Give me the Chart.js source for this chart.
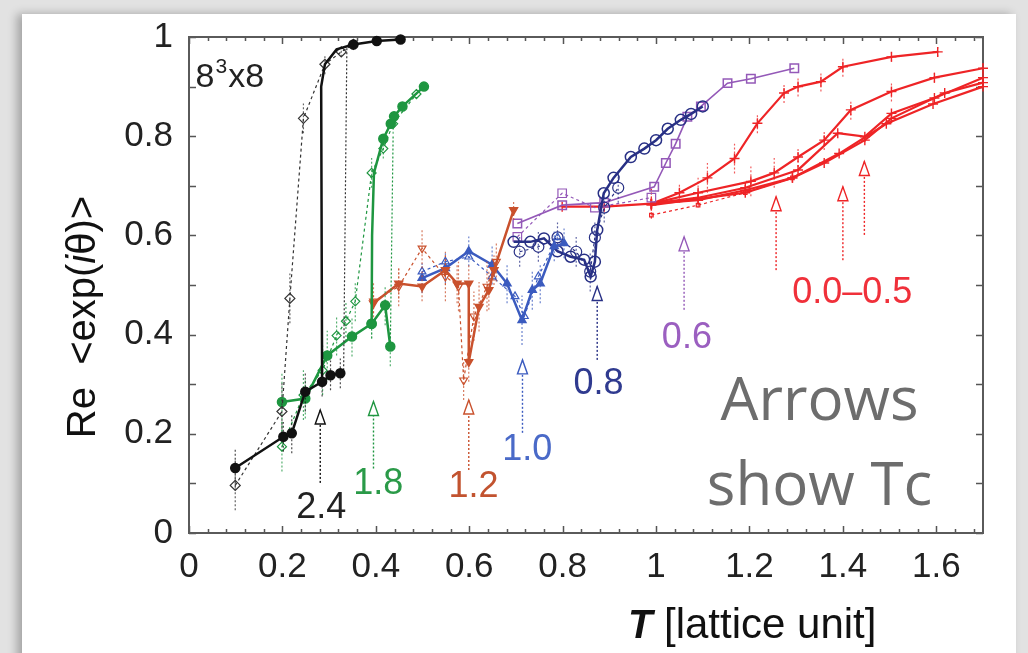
<!DOCTYPE html>
<html>
<head>
<meta charset="utf-8">
<script src="https://cdn.jsdelivr.net/npm/chart.js@4.4.1/dist/chart.umd.min.js"></script>
<style>
  html, body { margin: 0; padding: 0; }
  body { width: 1028px; height: 653px; background: #e2e2e2; position: relative; overflow: hidden; }
  #panel { position: absolute; left: 22px; top: 14px; width: 994px; height: 660px; background: #fff;
           box-shadow: -5px 0 9px rgba(0,0,0,0.28); }
  #chart { position: absolute; left: 0; top: 0; }
</style>
</head>
<body>
<div id="panel"></div>
<canvas id="chart" width="1028" height="653"></canvas>
<script>
// axis ticks
const xTicks = [0, 0.2, 0.4, 0.6, 0.8, 1, 1.2, 1.4, 1.6];
const xTickLabels = ["0", "0.2", "0.4", "0.6", "0.8", "1", "1.2", "1.4", "1.6"];
const yTicks = [0, 0.2, 0.4, 0.6, 0.8, 1];
const yTickLabels = ["0", "0.2", "0.4", "0.6", "0.8", "1"];
const xMax = 1.7;

// kappa = 2.4 (black)
const blackLowT = [0.099, 0.202, 0.220, 0.249, 0.285, 0.303, 0.324];
const blackLowRe = [0.131, 0.194, 0.201, 0.285, 0.305, 0.318, 0.322];
const blackLowErr = [0.04, 0.03, 0.04, 0.04, 0.03, 0.03, 0.03];
const blackJumpT = [0.285, 0.283, 0.291, 0.316, 0.352];
const blackJumpRe = [0.305, 0.90, 0.945, 0.975, 0.985];
const blackHighT = [0.352, 0.402, 0.453];
const blackHighRe = [0.985, 0.992, 0.995];
const blackDashT = [0.099, 0.199, 0.216, 0.245, 0.291, 0.326, 0.352];
const blackDashRe = [0.096, 0.245, 0.473, 0.836, 0.945, 0.970, 0.985];
const blackDashErr = [0.05, 0.06, 0.05, 0.03, 0.02, 0.01, 0.01];
const blackDotT = [0.331, 0.338];
const blackDotRe = [0.32, 0.98];

// kappa = 1.8 (green)
const greenLowT = [0.199, 0.249, 0.296, 0.349, 0.391];
const greenLowRe = [0.264, 0.271, 0.358, 0.396, 0.422];
const greenLowErr = [0.06, 0.04, 0.05, 0.04, 0.03];
const greenJumpT = [0.391, 0.392, 0.396, 0.416];
const greenJumpRe = [0.422, 0.60, 0.726, 0.795];
const greenHighT = [0.416, 0.432, 0.439, 0.457, 0.503];
const greenHighRe = [0.795, 0.825, 0.840, 0.860, 0.900];
const greenBranchT = [0.391, 0.420, 0.431];
const greenBranchRe = [0.422, 0.459, 0.376];
const greenBranchErr = [0.03, 0.04, 0.04];
const greenDotT = [0.431, 0.437];
const greenDotRe = [0.376, 0.80];
const greenDashT = [0.199, 0.245, 0.286, 0.316, 0.336, 0.356, 0.391, 0.416, 0.437, 0.487];
const greenDashRe = [0.174, 0.278, 0.328, 0.398, 0.427, 0.467, 0.726, 0.775, 0.825, 0.885];
const greenDashErr = [0.05, 0.05, 0.05, 0.04, 0.04, 0.04, 0.03, 0.02, 0.02, 0.01];

// kappa = 1.2 (brown-red)
const brownT = [0.395, 0.449, 0.499, 0.549, 0.574, 0.599, 0.599, 0.621, 0.642, 0.653, 0.695];
const brownRe = [0.463, 0.503, 0.497, 0.530, 0.503, 0.503, 0.345, 0.456, 0.490, 0.530, 0.651];
const brownErr = [0.02, 0.03, 0.03, 0.03, 0.04, 0.04, 0.04, 0.05, 0.04, 0.03, 0.02];
const brownDashT = [0.395, 0.449, 0.499, 0.549, 0.577, 0.588, 0.610, 0.638, 0.658];
const brownDashRe = [0.467, 0.497, 0.574, 0.517, 0.497, 0.308, 0.437, 0.497, 0.547];
const brownDashErr = [0.04, 0.04, 0.04, 0.05, 0.05, 0.04, 0.05, 0.05, 0.04];

// kappa = 1.0 (blue)
const blueT = [0.499, 0.549, 0.599, 0.649, 0.681, 0.713, 0.735, 0.752, 0.782, 0.803];
const blueRe = [0.514, 0.534, 0.568, 0.541, 0.503, 0.429, 0.490, 0.503, 0.578, 0.584];
const blueErr = [0.03, 0.03, 0.03, 0.04, 0.04, 0.05, 0.04, 0.04, 0.03, 0.03];
const blueDashT = [0.499, 0.549, 0.599, 0.649, 0.698, 0.718, 0.748, 0.789];
const blueDashRe = [0.527, 0.547, 0.557, 0.517, 0.477, 0.437, 0.517, 0.596];

// kappa = 0.8 (navy)
const navyT = [0.695, 0.731, 0.760, 0.789, 0.817, 0.846, 0.860, 0.869, 0.874, 0.888, 0.909, 0.946, 0.975, 1.000, 1.025, 1.053, 1.075, 1.100];
const navyRe = [0.587, 0.587, 0.594, 0.568, 0.557, 0.551, 0.517, 0.547, 0.611, 0.685, 0.716, 0.758, 0.775, 0.792, 0.815, 0.833, 0.845, 0.860];
const navyDashT = [0.708, 0.748, 0.789, 0.829, 0.859, 0.869, 0.889, 0.919];
const navyDashRe = [0.567, 0.577, 0.596, 0.567, 0.527, 0.596, 0.656, 0.696];
const navyDashErr = [0.03, 0.03, 0.03, 0.03, 0.04, 0.03, 0.03, 0.03];

// kappa = 0.6 (purple)
const purpleT = [0.703, 0.799, 0.889, 0.996, 1.021, 1.042, 1.067, 1.096, 1.153, 1.203, 1.296];
const purpleRe = [0.624, 0.661, 0.666, 0.698, 0.746, 0.785, 0.839, 0.860, 0.907, 0.916, 0.937];
const purpleDashT = [0.703, 0.799, 0.869, 0.990];
const purpleDashRe = [0.597, 0.685, 0.656, 0.676];

// kappa = 0.0 - 0.5 (red)
const redBaseT = [0.799, 0.889, 0.990];
const redBaseRe = [0.658, 0.658, 0.664];
const redAT = [0.990, 1.050, 1.110, 1.168, 1.217, 1.274, 1.304, 1.353, 1.400, 1.504, 1.603];
const redARe = [0.664, 0.686, 0.716, 0.755, 0.826, 0.887, 0.900, 0.910, 0.940, 0.960, 0.970];
const redAErr = [0.03, 0.02, 0.03, 0.03, 0.02, 0.02, 0.02, 0.02, 0.02, 0.01, 0.01];
const redBT = [0.990, 1.090, 1.203, 1.253, 1.304, 1.360, 1.417, 1.504, 1.596, 1.700];
const redBRe = [0.664, 0.686, 0.709, 0.726, 0.758, 0.792, 0.853, 0.890, 0.918, 0.937];
const redBErr = [0.03, 0.03, 0.03, 0.03, 0.02, 0.02, 0.02, 0.02, 0.01, 0.01];
const redCT = [0.990, 1.090, 1.191, 1.304, 1.389, 1.447, 1.504, 1.596, 1.700];
const redCRe = [0.664, 0.676, 0.696, 0.732, 0.806, 0.799, 0.846, 0.877, 0.918];
const redDT = [0.990, 1.090, 1.191, 1.292, 1.360, 1.447, 1.504, 1.618, 1.700];
const redDRe = [0.664, 0.671, 0.691, 0.716, 0.746, 0.792, 0.836, 0.887, 0.908];
const redET = [0.990, 1.191, 1.292, 1.392, 1.493, 1.593, 1.700];
const redERe = [0.661, 0.686, 0.716, 0.765, 0.825, 0.865, 0.900];
const redDashT = [0.990, 1.090, 1.191, 1.292];
const redDashRe = [0.641, 0.661, 0.686, 0.716];

// Tc arrows (dotted shafts with open heads)
const arrowT = [0.281, 0.395, 0.599, 0.714, 0.874, 1.060, 1.257, 1.400, 1.446];
const arrowTail = [0.101, 0.130, 0.127, 0.202, 0.349, 0.450, 0.530, 0.550, 0.601];
const arrowHead = [0.248, 0.265, 0.268, 0.349, 0.497, 0.597, 0.678, 0.698, 0.749];
const arrowKappa = ["2.4", "1.8", "1.2", "1.0", "0.8", "0.6", "0.0-0.5", "0.0-0.5", "0.0-0.5"];

// kappa labels
const kappaText = ["2.4", "1.8", "1.2", "1.0", "0.8", "0.6", "0.0\u20130.5"];
const kappaKey = ["2.4", "1.8", "1.2", "1.0", "0.8", "0.6", "0.0-0.5"];
const kappaLabelT = [0.283, 0.405, 0.609, 0.724, 0.877, 1.066, 1.420];
const kappaLabelRe = [0.051, 0.099, 0.093, 0.167, 0.301, 0.393, 0.483];

const colors = {
  "2.4": "#111111", "1.8": "#1e9640", "1.2": "#c9512d", "1.0": "#3b5bbf",
  "0.8": "#283085", "0.6": "#9459b8", "0.0-0.5": "#ee2426"
};
const labelColors = {
  "2.4": "#222222", "1.8": "#2a9a48", "1.2": "#c2532f", "1.0": "#4a6ac8",
  "0.8": "#2f3a8f", "0.6": "#9b5fc0", "0.0-0.5": "#f0303a"
};

const FONT = "'Liberation Sans', Arial, Helvetica, sans-serif";

function pts(xs, ys) {
  return xs.map((x, i) => ({ x: x, y: ys[i] }));
}

// solid line with markers
function solid(xs, ys, color, style, extra) {
  return Object.assign({
    data: pts(xs, ys), showLine: true, borderColor: color, backgroundColor: color,
    pointBorderColor: color, pointBackgroundColor: color, borderWidth: 2.5,
    pointRadius: 4.5, pointStyle: style, pointBorderWidth: 1.5, clip: false
  }, extra || {});
}

// dashed line with open markers
function dashed(xs, ys, color, style, extra) {
  return Object.assign({
    data: pts(xs, ys), showLine: true, borderColor: color, backgroundColor: "#fff",
    pointBorderColor: color, pointBackgroundColor: "rgba(255,255,255,0)", borderWidth: 1.2,
    borderDash: [3, 3], pointRadius: 4.5, pointStyle: style, pointBorderWidth: 1.2, clip: false
  }, extra || {});
}

const datasets = [];

// black
datasets.push(solid(blackLowT, blackLowRe, colors["2.4"], "circle", { err: blackLowErr }));
datasets.push(solid(blackJumpT, blackJumpRe, colors["2.4"], "circle", { pointRadius: 0 }));
datasets.push(solid(blackHighT, blackHighRe, colors["2.4"], "circle"));
datasets.push(dashed(blackDashT, blackDashRe, "#333", "rectRot", { err: blackDashErr, pointRadius: 5 }));
datasets.push(dashed(blackDotT, blackDotRe, "#333", "rectRot", { pointRadius: 0, borderDash: [2, 2] }));

// green
datasets.push(solid(greenLowT, greenLowRe, colors["1.8"], "circle", { err: greenLowErr }));
datasets.push(solid(greenJumpT, greenJumpRe, colors["1.8"], "circle", { pointRadius: 0 }));
datasets.push(solid(greenHighT, greenHighRe, colors["1.8"], "circle"));
datasets.push(solid(greenBranchT, greenBranchRe, colors["1.8"], "circle", { err: greenBranchErr }));
datasets.push(dashed(greenDotT, greenDotRe, colors["1.8"], "rectRot", { pointRadius: 0, borderDash: [2, 2] }));
datasets.push(dashed(greenDashT, greenDashRe, colors["1.8"], "rectRot", { err: greenDashErr }));

// brown
datasets.push(solid(brownT, brownRe, colors["1.2"], "triangle", { pointRotation: 180, err: brownErr }));
datasets.push(dashed(brownDashT, brownDashRe, colors["1.2"], "triangle", { pointRotation: 180, err: brownDashErr }));

// blue
datasets.push(solid(blueT, blueRe, colors["1.0"], "triangle", { err: blueErr }));
datasets.push(dashed(blueDashT, blueDashRe, colors["1.0"], "triangle"));

// navy
datasets.push(solid(navyT, navyRe, colors["0.8"], "circle", { pointBackgroundColor: "rgba(255,255,255,0)", pointRadius: 5.5 }));
datasets.push(dashed(navyDashT, navyDashRe, colors["0.8"], "circle", { pointRadius: 5.5, err: navyDashErr }));

// purple
datasets.push(solid(purpleT, purpleRe, colors["0.6"], "rect", { borderWidth: 1.6, pointBackgroundColor: "rgba(255,255,255,0)", pointRadius: 6 }));
datasets.push(dashed(purpleDashT, purpleDashRe, colors["0.6"], "rect", { pointRadius: 6 }));

// red
const redStyle = { pointRadius: 5, pointBorderWidth: 1.4, borderWidth: 2.2 };
datasets.push(solid(redBaseT, redBaseRe, colors["0.0-0.5"], "cross", redStyle));
datasets.push(solid(redAT, redARe, colors["0.0-0.5"], "cross", Object.assign({ err: redAErr }, redStyle)));
datasets.push(solid(redBT, redBRe, colors["0.0-0.5"], "cross", Object.assign({ err: redBErr }, redStyle)));
datasets.push(solid(redCT, redCRe, colors["0.0-0.5"], "cross", redStyle));
datasets.push(solid(redDT, redDRe, colors["0.0-0.5"], "cross", redStyle));
datasets.push(solid(redET, redERe, colors["0.0-0.5"], "cross", redStyle));
datasets.push(dashed(redDashT, redDashRe, colors["0.0-0.5"], "rect", { pointRadius: 2.5 }));

// arrows
arrowT.forEach((t, i) => {
  const c = colors[arrowKappa[i]];
  datasets.push({
    data: [{ x: t, y: arrowTail[i] }, { x: t, y: arrowHead[i] }],
    showLine: true, borderColor: c, borderWidth: 1.4, borderDash: [2, 2],
    pointRadius: 0, clip: false, isArrow: true
  });
});

// border and inward ticks on all four sides
const frameTicks = {
  id: "frameTicks",
  beforeDatasetsDraw(chart) {
    const { ctx, chartArea: a, scales } = chart;
    ctx.save();
    ctx.strokeStyle = "#555";
    ctx.lineWidth = 1.5;
    ctx.beginPath();
    for (let i = 0; i * 0.04 <= xMax + 1e-9; i++) {
      const px = Math.round(scales.x.getPixelForValue(i * 0.04)) + 0.5;
      const len = i % 5 === 0 ? 7 : 4;
      ctx.moveTo(px, a.bottom); ctx.lineTo(px, a.bottom - len);
      ctx.moveTo(px, a.top); ctx.lineTo(px, a.top + len);
    }
    for (let i = 0; i <= 10; i++) {
      const py = Math.round(scales.y.getPixelForValue(i * 0.1)) + 0.5;
      ctx.moveTo(a.left, py); ctx.lineTo(a.left + 7, py);
      ctx.moveTo(a.right, py); ctx.lineTo(a.right - 7, py);
    }
    ctx.stroke();
    ctx.lineWidth = 2;
    ctx.strokeStyle = "#5a5a5a";
    ctx.strokeRect(a.left, a.top, a.right - a.left, a.bottom - a.top);
    ctx.restore();
  },
  // dotted error bars, drawn under the lines
  beforeDatasetDraw(chart, args) {
    const d = chart.data.datasets[args.index];
    if (!d.err) return;
    const { ctx, scales } = chart;
    const meta = args.meta;
    ctx.save();
    ctx.strokeStyle = d.borderColor;
    ctx.globalAlpha = 0.75;
    ctx.lineWidth = 1.2;
    ctx.setLineDash([2, 2]);
    ctx.beginPath();
    meta.data.forEach((p, j) => {
      const v = d.data[j].y;
      ctx.moveTo(p.x, scales.y.getPixelForValue(v - d.err[j]));
      ctx.lineTo(p.x, scales.y.getPixelForValue(v + d.err[j]));
    });
    ctx.stroke();
    ctx.restore();
  }
};

// arrow heads, labels, axis titles
const annotations = {
  id: "annotations",
  afterDatasetsDraw(chart) {
    const { ctx, scales } = chart;
    ctx.save();
    chart.data.datasets.forEach((d, i) => {
      if (!d.isArrow) return;
      const p = chart.getDatasetMeta(i).data[1];
      ctx.strokeStyle = d.borderColor;
      ctx.fillStyle = "#fff";
      ctx.lineWidth = 1.4;
      ctx.setLineDash([]);
      ctx.beginPath();
      ctx.moveTo(p.x, p.y);
      ctx.lineTo(p.x - 5, p.y + 14);
      ctx.lineTo(p.x + 5, p.y + 14);
      ctx.closePath();
      ctx.fill();
      ctx.stroke();
    });

    ctx.textAlign = "center";
    ctx.textBaseline = "middle";
    ctx.font = "36px " + FONT;
    kappaText.forEach((t, i) => {
      ctx.fillStyle = labelColors[kappaKey[i]];
      ctx.fillText(t, scales.x.getPixelForValue(kappaLabelT[i]), scales.y.getPixelForValue(kappaLabelRe[i]));
    });

    // lattice size
    ctx.textAlign = "left";
    ctx.textBaseline = "alphabetic";
    ctx.fillStyle = "#222";
    const lx = scales.x.getPixelForValue(0.014), ly = scales.y.getPixelForValue(0.9);
    ctx.font = "34px " + FONT;
    ctx.fillText("8", lx, ly);
    let w = ctx.measureText("8").width;
    ctx.font = "21px " + FONT;
    ctx.fillText("3", lx + w + 1, ly - 14);
    w += ctx.measureText("3").width + 2;
    ctx.font = "34px " + FONT;
    ctx.fillText("x8", lx + w, ly);

    // note
    ctx.textAlign = "center";
    ctx.fillStyle = "#6d6d6d";
    ctx.font = "60px 'Open Sans', 'Noto Sans', sans-serif";
    ctx.fillText("Arrows", scales.x.getPixelForValue(1.35), scales.y.getPixelForValue(0.228));
    ctx.fillText("show Tc", scales.x.getPixelForValue(1.35), scales.y.getPixelForValue(0.056));

    // y title: Re <exp(iθ)>
    ctx.translate(95, 317);
    ctx.rotate(-Math.PI / 2);
    const parts = [["Re  <exp(", "40px " + FONT], ["i", "italic 40px " + FONT], ["\u03b8)>", "40px " + FONT]];
    let total = 0;
    parts.forEach(p => { ctx.font = p[1]; total += ctx.measureText(p[0]).width; });
    let x = -total / 2;
    ctx.textAlign = "left";
    ctx.fillStyle = "#111";
    parts.forEach(p => { ctx.font = p[1]; ctx.fillText(p[0], x, 0); x += ctx.measureText(p[0]).width; });
    ctx.setTransform(1, 0, 0, 1, 0, 0);

    // x title: T [lattice unit]
    ctx.font = "italic bold 40px " + FONT;
    ctx.fillText("T", 628, 638);
    ctx.font = "42px " + FONT;
    ctx.fillText("[lattice unit]", 664, 638);
    ctx.restore();
  }
};

new Chart(document.getElementById("chart"), {
  type: "scatter",
  data: { datasets: datasets },
  options: {
    responsive: false,
    animation: false,
    layout: { padding: { top: 37, right: 45, left: 0, bottom: 0 } },
    plugins: { legend: { display: false }, tooltip: { enabled: false } },
    scales: {
      x: {
        type: "linear", min: 0, max: xMax,
        grid: { display: false, drawTicks: false }, border: { display: false },
        afterBuildTicks: s => { s.ticks = xTicks.map(v => ({ value: v })); },
        afterFit: s => { s.height = 120; },
        ticks: {
          padding: 13, color: "#222", maxRotation: 0, autoSkip: false,
          font: { family: FONT, size: 35 },
          callback: (v, i) => xTickLabels[i]
        }
      },
      y: {
        type: "linear", min: 0, max: 1,
        grid: { display: false, drawTicks: false }, border: { display: false },
        afterBuildTicks: s => { s.ticks = yTicks.map(v => ({ value: v })); },
        afterFit: s => { s.width = 189; },
        ticks: {
          padding: 16, color: "#222", autoSkip: false,
          font: { family: FONT, size: 35 },
          callback: (v, i) => yTickLabels[i]
        }
      }
    }
  },
  plugins: [frameTicks, annotations]
});
</script>
</body>
</html>
